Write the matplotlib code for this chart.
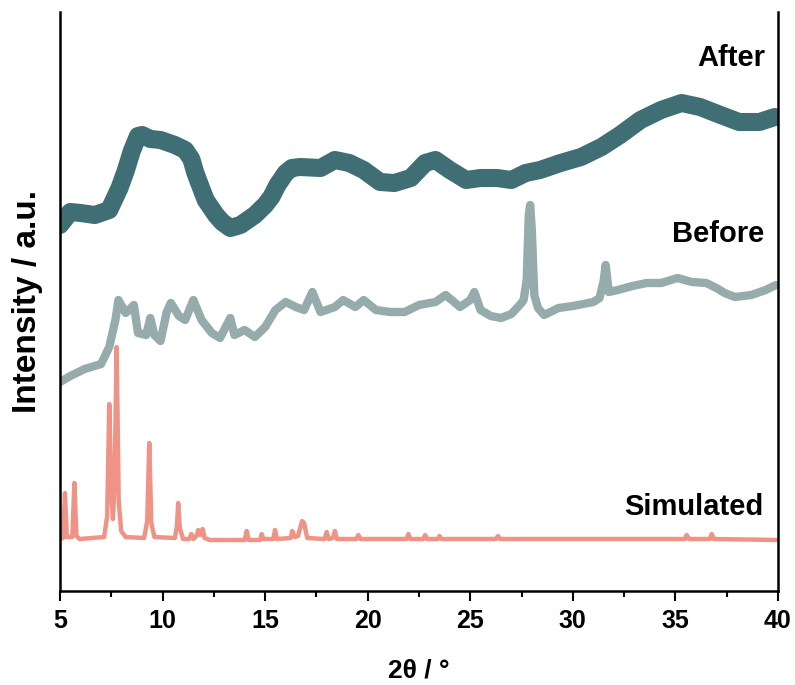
import matplotlib
matplotlib.use("Agg")
import matplotlib.pyplot as plt
from matplotlib.ticker import MultipleLocator

plt.rcParams["font.family"] = ["Liberation Sans", "DejaVu Sans"]
plt.rcParams["font.weight"] = "bold"

# PXRD patterns, intensity in arbitrary (already offset) units
after_2theta = [5.0, 5.5, 6.0, 6.7, 7.4, 7.9, 8.2, 8.5, 8.8, 9.0, 9.4, 9.9,
                10.6, 11.1, 11.4, 11.6, 12.1, 12.6, 12.9, 13.3, 13.8, 14.5,
                15.0, 15.3, 15.6, 16.0, 16.3, 16.7, 17.7, 18.4, 19.1, 19.8,
                20.6, 21.3, 22.1, 22.8, 23.3, 24.0, 24.8, 25.5, 26.3, 27.0,
                27.7, 28.4, 29.4, 30.4, 31.4, 32.3, 33.3, 34.3, 35.3, 36.2,
                37.2, 38.1, 39.1, 39.85]
after_int = [366, 379, 378, 376, 381, 403, 420, 440, 455, 456, 452, 451,
             446, 441, 432, 418, 391, 376, 369, 363, 366, 376,
             386, 394, 406, 418, 423, 424, 423, 431, 428, 421,
             409, 408, 413, 428, 431, 421, 411, 413, 413, 411,
             418, 421, 428, 434, 444, 456, 471, 481, 488, 484,
             476, 469, 469, 474]

before_2theta = [5.0, 5.5, 6.2, 7.0, 7.4, 7.7, 7.85, 8.2, 8.6, 8.8, 9.2, 9.4,
                 9.6, 9.9, 10.2, 10.4, 10.8, 11.1, 11.5, 11.9, 12.4, 12.8,
                 13.3, 13.5, 14.0, 14.5, 15.0, 15.5, 16.0, 16.5, 16.9, 17.3,
                 17.7, 18.4, 18.8, 19.4, 19.8, 20.4, 21.1, 21.8, 22.5, 23.3,
                 23.8, 24.5, 25.0, 25.2, 25.5, 26.0, 26.5, 27.0, 27.5, 27.6,
                 27.75, 27.85, 27.92, 28.0, 28.12, 28.3, 28.6, 29.3, 30.0,
                 31.0, 31.3, 31.5, 31.6, 31.75, 32.2, 32.9, 33.6, 34.3, 35.1,
                 35.8, 36.5, 37.0, 37.4, 37.9, 38.7, 39.4, 39.9]
before_int = [209, 215, 222, 227, 244, 271, 291, 278, 286, 258, 256, 273,
              256, 250, 279, 288, 275, 271, 291, 271, 258, 253,
              273, 256, 261, 254, 264, 281, 289, 284, 281, 299,
              279, 284, 291, 284, 291, 281, 279, 279, 286, 289,
              296, 284, 291, 299, 281, 275, 273, 277, 288, 291,
              311, 376, 386, 361, 296, 283, 276, 283, 285,
              289, 293, 310, 326, 299, 301, 305, 308, 308, 313,
              309, 308, 303, 298, 294, 296, 301, 306]

sim_2theta = [5.0, 5.15, 5.24, 5.33, 5.6, 5.70, 5.80, 5.95,
              7.15, 7.30, 7.40, 7.50, 7.58, 7.66, 7.76, 7.86, 7.98, 8.2,
              9.1, 9.25, 9.35, 9.45, 9.6,
              10.6, 10.7, 10.76, 10.84, 11.0,
              11.3, 11.4, 11.5, 11.65, 11.74, 11.85, 11.95, 12.05, 12.3,
              14.0, 14.1, 14.2, 14.75, 14.83, 14.92, 15.4, 15.48, 15.58,
              16.25, 16.32, 16.45, 16.6, 16.8, 16.9, 17.05,
              17.9, 18.0, 18.1, 18.3, 18.4, 18.5, 19.45, 19.54, 19.65,
              21.9, 21.98, 22.08, 22.72, 22.8, 22.9, 23.42, 23.5, 23.6,
              26.25, 26.35, 26.45, 35.45, 35.55, 35.65, 36.68, 36.77, 36.87,
              40.0]
sim_int = [52, 53, 98, 54, 54, 108, 55, 52,
           54, 75, 187, 100, 72, 110, 244, 90, 60, 54,
           53, 70, 148, 68, 54,
           53, 65, 88, 63, 52,
           52, 57, 52, 55, 61, 56, 62, 53, 51,
           51, 60, 51, 51, 57, 52, 52, 61, 52,
           53, 60, 54, 55, 70, 68, 53,
           52, 59, 52, 53, 60, 52, 52, 56, 52,
           52, 57, 52, 52, 56, 52, 52, 55, 52,
           52, 55, 52, 52, 56, 52, 52, 57, 52,
           51]

fig = plt.figure(figsize=(7.95, 6.85), dpi=100)
ax = fig.add_axes([0.0755, 0.1372, 0.9031, 0.8453])

ax.plot(after_2theta, after_int, color="#3f6e74", lw=13,
        solid_joinstyle="round", solid_capstyle="round")
ax.plot(before_2theta, before_int, color="#95abac", lw=6,
        solid_joinstyle="round", solid_capstyle="round")
ax.plot(sim_2theta, sim_int, color="#ef9386", lw=3.2,
        solid_joinstyle="round")

label_kw = dict(ha="right", va="baseline", fontsize=21, fontweight="bold")
ax.text(39.37, 525, "After", **label_kw)
ax.text(39.32, 349, "Before", **label_kw)
ax.text(39.28, 76, "Simulated", **label_kw)

ax.set_xlim(5, 40)
ax.set_ylim(0, 579)
ax.xaxis.set_major_locator(MultipleLocator(5))
ax.xaxis.set_minor_locator(MultipleLocator(2.5))
ax.set_yticks([])
ax.spines["top"].set_visible(False)
for side in ("left", "right", "bottom"):
    ax.spines[side].set_linewidth(1.8)
ax.tick_params(axis="x", which="major", direction="out", length=7,
               width=1.5, labelsize=18, pad=6)
ax.tick_params(axis="x", which="minor", direction="out", length=4, width=1.5)
for lbl in ax.get_xticklabels():
    lbl.set_fontweight("bold")

ax.set_xlabel("2θ / °", fontsize=19, fontweight="bold", labelpad=18)
ax.set_ylabel("Intensity / a.u.", fontsize=24, fontweight="bold", labelpad=12)

fig.savefig("out.png", dpi=100)
